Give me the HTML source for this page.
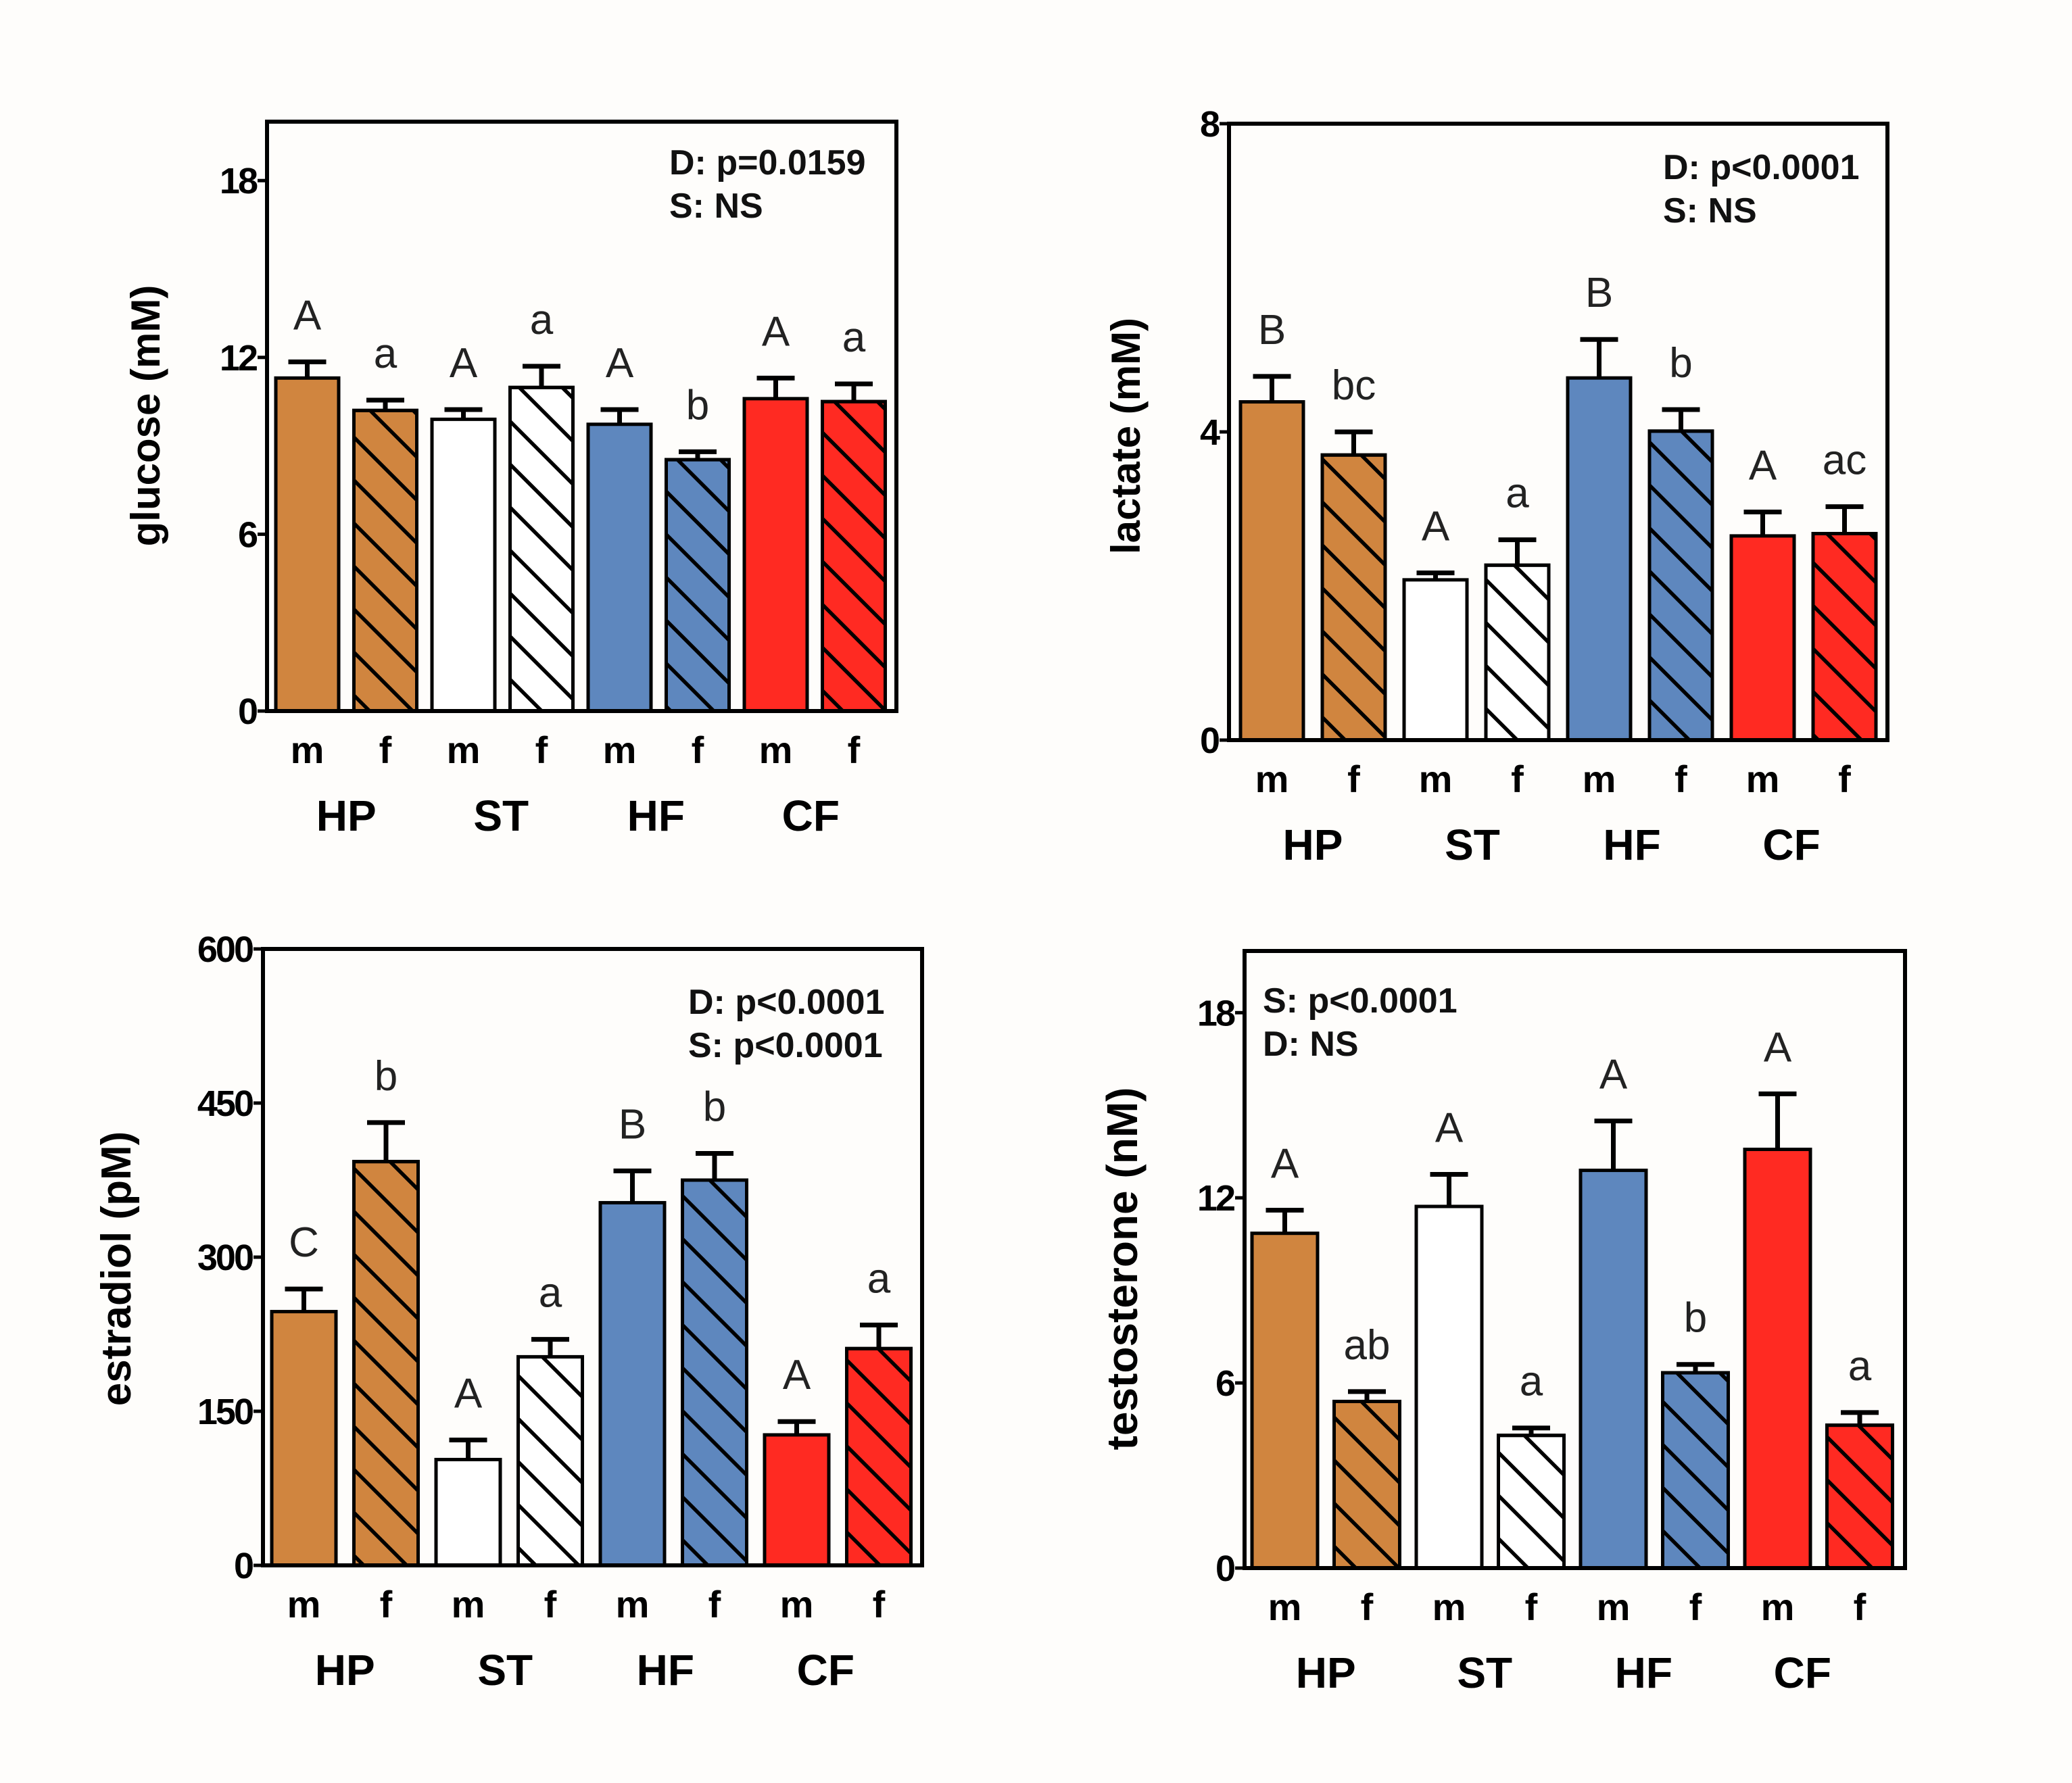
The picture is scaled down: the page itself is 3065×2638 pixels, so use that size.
<!DOCTYPE html>
<html><head><meta charset="utf-8">
<style>
html,body{margin:0;padding:0;background:#fefdfb;}
svg{display:block;}
text{font-family:"Liberation Sans",Arial,sans-serif;}
</style></head>
<body>
<svg id="fig" width="3065" height="2638" viewBox="0 0 3065 2638" xmlns="http://www.w3.org/2000/svg">
<defs>
<pattern id="hatch" patternUnits="userSpaceOnUse" width="45" height="45" patternTransform="rotate(-45)">
<line x1="0" y1="0" x2="0" y2="45" stroke="#000" stroke-width="11"/>
</pattern>
</defs>
<rect width="3065" height="2638" fill="#fefdfb"/>
</svg>
<script>
const categories = ["m","f","m","f","m","f","m","f"];
const groups = ["HP","ST","HF","CF"];
const colors = ["#d0853f","#d0853f","#ffffff","#ffffff","#5e87be","#5e87be","#ff2a22","#ff2a22"];

const glucoseValues = [11.3,10.2,9.9,10.98,9.73,8.53,10.6,10.5];
const glucoseErrors = [0.55,0.35,0.33,0.72,0.5,0.27,0.7,0.6];
const glucoseLetters = ["A","a","A","a","A","b","A","a"];
const glucoseTicks = [0,6,12,18];

const lactateValues = [4.39,3.7,2.08,2.27,4.7,4.01,2.65,2.68];
const lactateErrors = [0.33,0.3,0.09,0.33,0.5,0.28,0.31,0.35];
const lactateLetters = ["B","bc","A","a","B","b","A","ac"];
const lactateTicks = [0,4,8];

const estradiolValues = [247,393,103,203,353,375,127,211];
const estradiolErrors = [22,38,19,17,31,26,13,23];
const estradiolLetters = ["C","b","A","a","B","b","A","a"];
const estradiolTicks = [0,150,300,450,600];

const testosteroneValues = [10.85,5.4,11.72,4.3,12.89,6.33,13.57,4.63];
const testosteroneErrors = [0.75,0.32,1.04,0.24,1.6,0.27,1.8,0.41];
const testosteroneLetters = ["A","ab","A","a","A","b","A","a"];
const testosteroneTicks = [0,6,12,18];

const NS = "http://www.w3.org/2000/svg";
const svg = document.getElementById("fig");
function mk(tag, attrs, parent){
  const e = document.createElementNS(NS, tag);
  for (const k in attrs) e.setAttribute(k, attrs[k]);
  (parent||svg).appendChild(e);
  return e;
}

function panel(cfg){
  const g = mk("g", {});
  
  
  const y = v => cfg.B - (v / cfg.max) * (cfg.B - cfg.T);
  const x = i => cfg.x0 + i * cfg.step;
  cfg.values.forEach((v,i)=>{
    const bx = x(i), by = y(v), bw = cfg.w;
    const r = mk("rect", {x:bx, y:by, width:bw, height:cfg.B-by, fill:colors[i], stroke:"#000", "stroke-width":5}, g);
    
    
    if (i % 2 === 1){
      const h = mk("rect", {x:bx, y:by, width:bw, height:cfg.B-by, fill:"url(#hatch)", stroke:"#000", "stroke-width":5}, g);
      
      
    }
    const et = y(v + cfg.errors[i]);
    const cx = bx + bw/2;
    const eb = mk("path", {d:`M${cx},${by} V${et} M${cx-28},${et} H${cx+28}`, stroke:"#000", "stroke-width":7, fill:"none"}, g);
    
    
    const lt = mk("text", {x:cx, y:et-48, "text-anchor":"middle", "font-size":62, fill:"#222"}, g);
    lt.textContent = cfg.letters[i];
    
    
    const ct = mk("text", {x:cx, y:cfg.B+77, "text-anchor":"middle", "font-size":56, "font-weight":"bold"}, g);
    ct.textContent = categories[i];
    
    
  });
  groups.forEach((gr,j)=>{
    const cx = (x(2*j) + x(2*j+1) + cfg.w)/2 - j*cfg.gshift;
    const t = mk("text", {x:cx, y:cfg.B+177, "text-anchor":"middle", "font-size":64, "font-weight":"bold"}, g);
    t.textContent = gr;
    
    
  });
  const fr = mk("rect", {x:cfg.L, y:cfg.T, width:cfg.R-cfg.L, height:cfg.B-cfg.T, fill:"none", stroke:"#000", "stroke-width":6}, g);
  
  
  cfg.ticks.forEach(tv=>{
    const ty = y(tv);
    const tk = mk("line", {x1:cfg.L-14, x2:cfg.L, y1:ty, y2:ty, stroke:"#000", "stroke-width":5}, g);
    
    
    const tl = mk("text", {x:cfg.L-16, y:ty+19, "text-anchor":"end", "font-size":54, "font-weight":"bold", "letter-spacing":"-3"}, g);
    tl.textContent = tv;
    
    
  });
  const yt = mk("text", {x:0, y:0, "text-anchor":"middle", "font-size":cfg.titleSize, "font-weight":"bold", transform:`translate(${cfg.titleX},${cfg.titleY}) rotate(-90)`}, g);
  yt.textContent = cfg.title;
  
  
  cfg.stats.forEach((s,k)=>{
    const st = mk("text", {x:cfg.statX, y:cfg.statY + k*64, "font-size":52, "font-weight":"bold", fill:"#111"}, g);
    st.textContent = s;
    
    
  });
}

panel({name:"glucose", L:395, R:1326, T:180, B:1052, max:20, x0:408, step:115.5, w:93, gshift:2,
  values:glucoseValues, errors:glucoseErrors, letters:glucoseLetters, ticks:glucoseTicks,
  title:"glucose (mM)", titleSize:60, titleX:236, titleY:615, stats:["D: p=0.0159","S: NS"], statX:990, statY:258});
panel({name:"lactate", L:1818, R:2792, T:183, B:1095, max:8, x0:1835, step:121, w:93, gshift:6,
  values:lactateValues, errors:lactateErrors, letters:lactateLetters, ticks:lactateTicks,
  title:"lactate (mM)", titleSize:60, titleX:1686, titleY:645, stats:["D: p<0.0001","S: NS"], statX:2460, statY:265});
panel({name:"estradiol", L:389, R:1364, T:1404, B:2316, max:600, x0:402, step:121.5, w:95, gshift:6,
  values:estradiolValues, errors:estradiolErrors, letters:estradiolLetters, ticks:estradiolTicks,
  title:"estradiol (pM)", titleSize:62, titleX:193, titleY:1877, stats:["D: p<0.0001","S: p<0.0001"], statX:1018, statY:1500});
panel({name:"testosterone", L:1841, R:2818, T:1407, B:2320, max:20, x0:1852, step:121.5, w:97, gshift:8,
  values:testosteroneValues, errors:testosteroneErrors, letters:testosteroneLetters, ticks:testosteroneTicks,
  title:"testosterone (nM)", titleSize:64, titleX:1682, titleY:1877, stats:["S: p<0.0001","D: NS"], statX:1868, statY:1498});
</script>
</body></html>
